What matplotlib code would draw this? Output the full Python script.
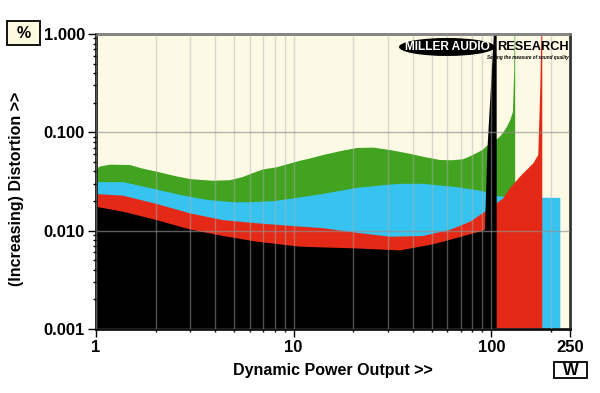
import numpy as np
import matplotlib.pyplot as plt
from matplotlib.patches import Ellipse, Rectangle
from matplotlib.ticker import FixedLocator, NullFormatter

plt.rcParams['font.family'] = ['Liberation Sans', 'DejaVu Sans']

# power (W) / distortion (%), one array pair per trace
green_w = [1.0, 1.05, 1.18, 1.49, 1.7, 2.03, 2.5, 2.99, 3.4, 3.91, 4.76, 5.5, 6.5,
           7.0, 8.2, 10.8, 12.0, 14.1, 17.0, 20.8, 25.2, 30.7, 38.0, 45.1, 55.0,
           63.0, 71.8, 78.0, 84.3, 90.0, 96.1, 103.0, 110.6, 115.0, 120.0, 125.0,
           128.6, 130.5, 131.5, 132.0]
green_d = [0.0424, 0.045, 0.0469, 0.0465, 0.043, 0.0398, 0.036, 0.0335, 0.0328,
           0.0322, 0.0326, 0.035, 0.0398, 0.042, 0.0441, 0.0515, 0.054, 0.0588,
           0.064, 0.0693, 0.070, 0.0661, 0.061, 0.0565, 0.0523, 0.052, 0.0532,
           0.057, 0.0616, 0.066, 0.0743, 0.081, 0.0903, 0.1, 0.114, 0.135, 0.162,
           0.4, 2.0, 2.0]

blue_w = [1.0, 1.37, 2.03, 2.7, 3.63, 4.93, 6.0, 7.86, 10.8, 14.1, 20.8, 30.7,
          34.5, 45.1, 66.7, 87.5, 93.0, 105.0, 120.0, 222.0]
blue_d = [0.0315, 0.0315, 0.0264, 0.0232, 0.0208, 0.0197, 0.0197, 0.0202, 0.0221,
          0.0240, 0.0276, 0.0298, 0.0303, 0.0303, 0.0280, 0.0258, 0.0249, 0.023,
          0.022, 0.0218]

red_w = [1.0, 1.37, 2.03, 2.99, 4.39, 6.5, 10.8, 14.1, 20.8, 30.7, 45.1, 61.8,
         77.9, 92.8, 100.0, 106.4, 114.9, 124.2, 139.6, 150.8, 163.0, 172.7, 177.0,
         180.0, 181.0]
red_d = [0.0236, 0.0227, 0.0187, 0.0150, 0.0128, 0.0119, 0.0110, 0.0106, 0.00953,
         0.00869, 0.00883, 0.0102, 0.0123, 0.0156, 0.0175, 0.019, 0.0213, 0.027,
         0.0354, 0.0414, 0.0484, 0.0588, 0.3, 2.0, 2.0]

black_w = [1.0, 1.37, 2.03, 2.99, 4.39, 6.5, 10.8, 20.8, 34.5, 50.9, 69.4, 87.5,
           92.8, 95.5, 103.0, 104.0, 106.4]
black_d = [0.0175, 0.0156, 0.0128, 0.0103, 0.00883, 0.00773, 0.00687, 0.0066,
           0.0063, 0.00728, 0.0086, 0.0098, 0.0102, 0.066, 1.0, 2.0, 2.0]

traces = [(green_w, green_d, '#41a31f'),
          (blue_w, blue_d, '#36c3f0'),
          (red_w, red_d, '#e42a17'),
          (black_w, black_d, '#000000')]

x_major = [1, 10, 100, 250]
x_labels = ['1', '10', '100', '250']
y_major = [0.001, 0.01, 0.1, 1.0]
y_labels = ['0.001', '0.010', '0.100', '1.000']

fig = plt.figure(figsize=(6, 3.93), dpi=100)
ax = fig.add_axes([0.16, 0.1628, 0.79, 0.7507])
ax.set_facecolor('#fcf9e4')
ax.set_xscale('log')
ax.set_yscale('log')

for w, d, c in traces:
    ax.fill_between(w, 1e-4, d, color=c, linewidth=0)

ax.set_xlim(1, 250)
ax.set_ylim(0.001, 1.0)

ax.xaxis.set_major_locator(FixedLocator(x_major))
ax.set_xticklabels(x_labels)
x_minor = [m * 10 ** e for e in range(3) for m in range(2, 10) if m * 10 ** e < 250]
ax.xaxis.set_minor_locator(FixedLocator(x_minor))
ax.xaxis.set_minor_formatter(NullFormatter())

ax.yaxis.set_major_locator(FixedLocator(y_major))
ax.set_yticklabels(y_labels)
y_minor = [m * 10 ** e for e in range(-3, 0) for m in range(2, 10)]
ax.yaxis.set_minor_locator(FixedLocator(y_minor))
ax.yaxis.set_minor_formatter(NullFormatter())

ax.set_axisbelow(False)
ax.grid(which='both', axis='x', color='#b0b0b0', alpha=0.45, linewidth=1)
ax.grid(which='major', axis='y', color='#909090', alpha=0.65, linewidth=1)

ax.tick_params(which='major', direction='out', length=6, width=1, pad=2,
               labelsize=12)
ax.tick_params(which='minor', direction='out', length=2.5, width=1)
for lab in ax.get_xticklabels() + ax.get_yticklabels():
    lab.set_fontweight('bold')

for s in ['left', 'bottom']:
    ax.spines[s].set_linewidth(2)
    ax.spines[s].set_color('#111111')
ax.spines['top'].set_color('#777777')
ax.spines['top'].set_linewidth(2)
ax.spines['right'].set_color('#333333')
ax.spines['right'].set_linewidth(2)

ax.set_xlabel('Dynamic Power Output >>', fontsize=11.5, fontweight='bold', labelpad=6)
ax.set_ylabel('(Increasing) Distortion >>', fontsize=11.5, fontweight='bold')
ax.yaxis.set_label_coords(-0.152, 0.475)

# unit boxes
fig.patches.append(Rectangle((0.0117, 0.8855), 0.055, 0.061, transform=fig.transFigure,
                             fc='#fcf9e0', ec='black', lw=1.3))
fig.text(0.039, 0.916, '%', fontsize=11.5, fontweight='bold', ha='center', va='center')
fig.patches.append(Rectangle((0.9233, 0.0382), 0.055, 0.0407, transform=fig.transFigure,
                             fc='white', ec='black', lw=1.3))
fig.text(0.951, 0.058, 'W', fontsize=12, fontweight='bold', ha='center', va='center')

# logo
ax.add_patch(Ellipse((0.7405, 0.956), 0.2025, 0.061, transform=ax.transAxes,
                     fc='black', ec='none', zorder=5))
ax.text(0.742, 0.956, 'MILLER AUDIO', transform=ax.transAxes, color='white',
        fontsize=8.6, fontweight='bold', ha='center', va='center', zorder=6)
ax.text(0.997, 0.956, 'RESEARCH', transform=ax.transAxes, color='black',
        fontsize=9.2, fontweight='bold', ha='right', va='center', zorder=6)
ax.text(0.997, 0.92, 'Setting the measure of sound quality', transform=ax.transAxes,
        color='black', fontsize=3.3, fontweight='bold', style='italic', ha='right',
        va='center', zorder=6)

fig.savefig('out.png', dpi=100)
